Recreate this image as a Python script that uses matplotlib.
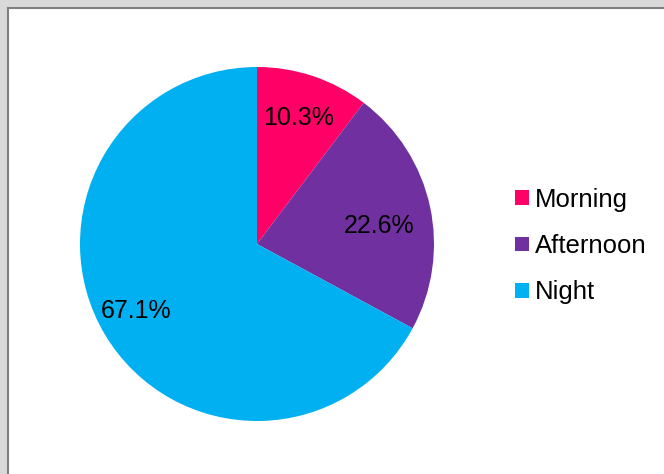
import matplotlib.pyplot as plt
from matplotlib.patches import Rectangle
import numpy as np

plt.rcParams['font.family'] = ['Liberation Sans', 'DejaVu Sans']

# datos del grafico
labels = ['Morning', 'Afternoon', 'Night']
values = [10.3, 22.6, 67.1]
colors = ['#FF0066', '#7030A0', '#00B0F0']

W, H = 664, 474
fig = plt.figure(figsize=(W/100, H/100), dpi=100, facecolor='#d9d9d9')

# caja blanca con borde gris
fig.patches.append(Rectangle((8/W, -0.1), 1.1, (H-8)/H + 0.1, transform=fig.transFigure,
                             facecolor='white', edgecolor='#808080', lw=1.5, zorder=-5))

cx, cy, r = 257, 244, 177
ax = fig.add_axes([(cx-r)/W, (H-cy-r)/H, 2*r/W, 2*r/H])
wedges, texts, autotexts = ax.pie(values, colors=colors, startangle=90, counterclock=False,
                                  autopct='%1.1f%%', pctdistance=0.74,
                                  wedgeprops=dict(linewidth=0),
                                  textprops=dict(fontsize=18, color='black'))
# pequeños ajustes de posicion de las etiquetas (como en el original)
ajustes = [(0.0, 0.01), (-0.035, -0.055), (-0.045, 0.0)]
for t, (ddx, ddy) in zip(autotexts, ajustes):
    px, py = t.get_position()
    t.set_position((px + ddx, py + ddy))

ax.set_xlim(-1, 1)
ax.set_ylim(-1, 1)
ax.set_aspect('auto')
ax.axis('off')

fig.legend(wedges, labels, loc='center left', bbox_to_anchor=(515/W, (H-246)/H),
           frameon=False, fontsize=18.5, handlelength=0.54, handleheight=0.5,
           handletextpad=0.25, labelspacing=0.87, borderpad=0, borderaxespad=0)

fig.savefig('out.png', dpi=100, facecolor=fig.get_facecolor())
